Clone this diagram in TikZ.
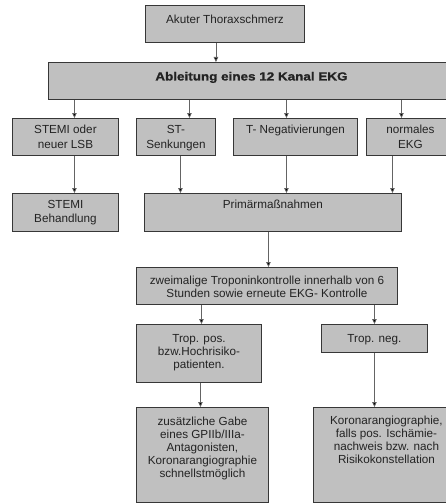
\documentclass[tikz,border=0pt]{standalone}
\usepackage{fontspec}
\setmainfont{Liberation Sans}
\newfontfamily\ekgbold[FakeStretch=1.15,FakeBold=1.2]{Liberation Sans}
\usetikzlibrary{arrows.meta,positioning,calc}
\definecolor{ekggray}{RGB}{192,192,192}
\definecolor{ekgframe}{RGB}{55,55,55}
\definecolor{ekgline}{RGB}{100,100,100}
\definecolor{ekgtext}{RGB}{35,35,35}
% width, height, first baseline, text
\newcommand{\boxtxt}[4]{\parbox[c][#2pt][t]{#1pt}{\centering\rule{0pt}{#3pt}#4}}
\tikzset{
  flowbox/.style={draw=ekgframe, fill=ekggray, line width=0.9pt, inner sep=0pt, anchor=north west, text=ekgtext, font=\fontsize{11.7}{13}\selectfont},
  flowarrow/.style={draw=ekgline, line width=0.7pt, -{Triangle[length=5pt,width=4.5pt,fill=black]}},
}

\begin{document}
\begin{tikzpicture}[x=1pt,y=-1pt]
\useasboundingbox (0,0) rectangle (446,503);
\clip (0,0) rectangle (446,503);
% boxes
\node[flowbox] (thorax) at (145,5) {\boxtxt{159}{37}{18}{Akuter Thoraxschmerz}};
\node[flowbox] (ekg) at (48,62) {\boxtxt{406}{37}{18}{{\ekgbold\bfseries Ableitung eines 12 Kanal EKG}}};
\node[flowbox] (stemi) at (12,118) {\boxtxt{106}{37}{15.5}{STEMI oder\\[1.5pt] neuer LSB}};
\node[flowbox] (stsenk) at (136,118) {\boxtxt{79}{37}{15.5}{ST-\\[1.5pt] Senkungen}};
\node[flowbox] (tneg) at (233,118) {\boxtxt{124}{37}{15.5}{T- Negativierungen}};
\node[flowbox] (normal) at (366,118) {\boxtxt{88}{37}{15.5}{normales\\[1.5pt] EKG}};
\node[flowbox] (stemibeh) at (12,193) {\boxtxt{106}{38}{15.5}{STEMI\\[1pt] Behandlung}};
\node[flowbox] (primaer) at (144,193) {\boxtxt{257}{38}{15.5}{Primärmaßnahmen}};
\node[flowbox] (tropo) at (136,267) {\boxtxt{261}{37}{17}{zweimalige Troponinkontrolle innerhalb von 6\\ Stunden sowie erneute EKG- Kontrolle}};
\node[flowbox] (troppos) at (136,324) {\boxtxt{125}{58}{18}{Trop. pos.\\ bzw.Hochrisiko-\\ patienten.}};
\node[flowbox] (tropneg) at (321,324) {\boxtxt{106}{28}{18}{Trop. neg.}};
\node[flowbox] (gabe) at (136,407) {\boxtxt{132}{95}{18}{zusätzliche Gabe\\ eines GPIIb/IIIa-\\ Antagonisten,\\ Koronarangiographie\\ schnellstmöglich}};
\node[flowbox] (koronar) at (313,407) {\boxtxt{146}{95}{17.5}{Koronarangiographie,\\ falls pos. Ischämie-\\ nachweis bzw. nach\\ Risikokonstellation}};
% connectors
\draw[flowarrow] ([xshift=-9pt]thorax.south) -- ([xshift=-9pt]thorax.south |- ekg.north);
\draw[flowarrow] ([xshift=9pt]stemi.north |- ekg.south) -- ([xshift=9pt]stemi.north);
\draw[flowarrow] ([xshift=13.5pt]stsenk.north |- ekg.south) -- ([xshift=13.5pt]stsenk.north);
\draw[flowarrow] ([xshift=-9pt]tneg.north |- ekg.south) -- ([xshift=-9pt]tneg.north);
\draw[flowarrow] ([xshift=-9pt]normal.north |- ekg.south) -- ([xshift=-9pt]normal.north);
\draw[flowarrow] ([xshift=9pt]stemi.south) -- ([xshift=9pt]stemibeh.north);
\draw[flowarrow] ([xshift=4.5pt]stsenk.south) -- ([xshift=4.5pt]stsenk.south |- primaer.north);
\draw[flowarrow] ([xshift=-9pt]tneg.south) -- ([xshift=-9pt]tneg.south |- primaer.north);
\draw[flowarrow] ([xshift=-18pt]normal.south) -- ([xshift=-18pt]normal.south |- primaer.north);
\draw[flowarrow] ([xshift=-4.5pt]primaer.south) -- ([xshift=-4.5pt]primaer.south |- tropo.north);
\draw[flowarrow] ([xshift=2.5pt]troppos.north |- tropo.south) -- ([xshift=2.5pt]troppos.north);
\draw[flowarrow] (tropneg.north |- tropo.south) -- (tropneg.north);
\draw[flowarrow] ([xshift=1.5pt]troppos.south) -- ([xshift=1.5pt]troppos.south |- gabe.north);
\draw[flowarrow] (tropneg.south) -- (tropneg.south |- koronar.north);
\end{tikzpicture}
\end{document}
